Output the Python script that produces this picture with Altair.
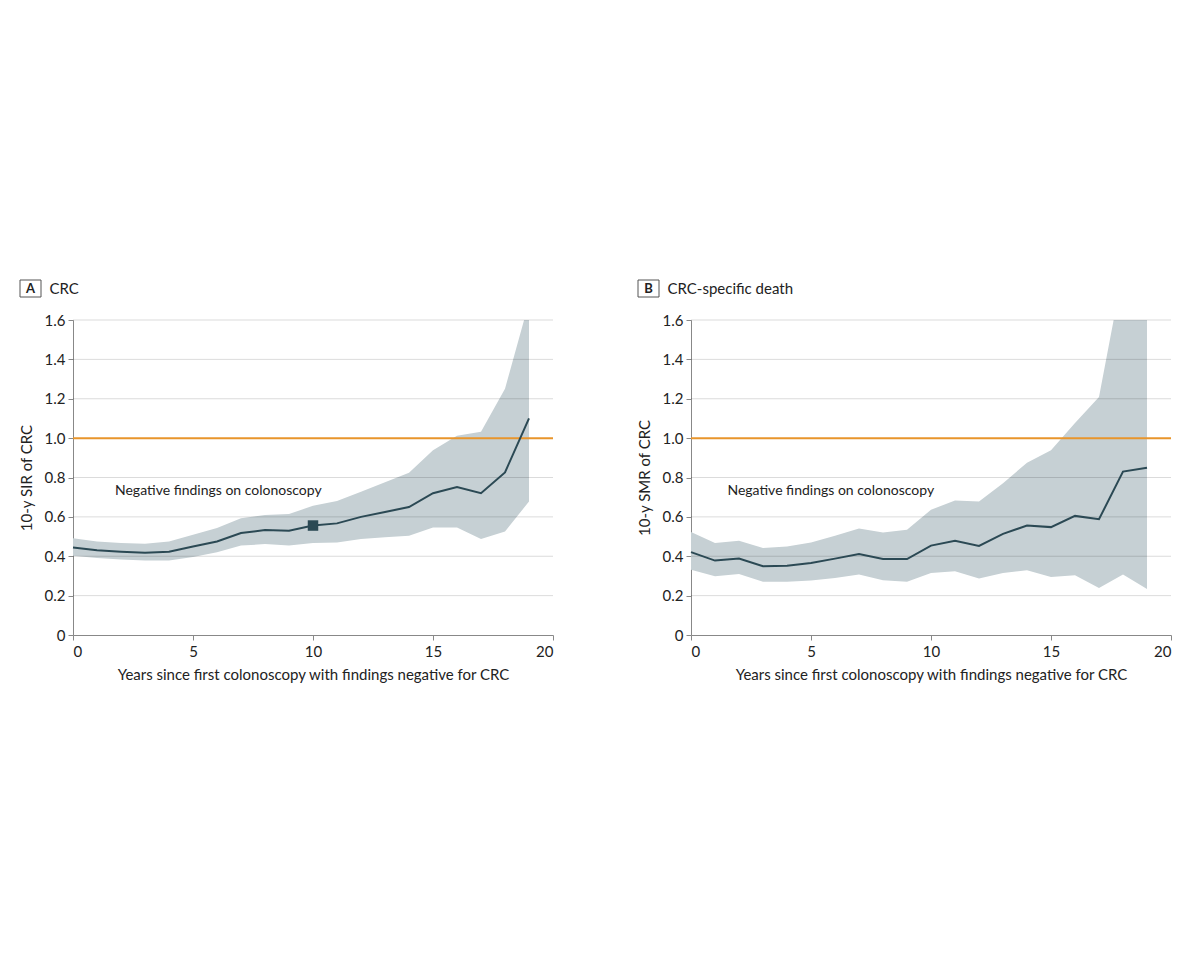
import altair as alt
import pandas as pd

years = list(range(20))

# Panel A: 10-y SIR of CRC
sir_est = [0.445, 0.430, 0.423, 0.418, 0.423, 0.450, 0.475, 0.518, 0.533, 0.530,
           0.556, 0.567, 0.600, 0.625, 0.650, 0.720, 0.752, 0.720, 0.826, 1.100]
sir_lo = [0.403, 0.391, 0.383, 0.378, 0.378, 0.396, 0.420, 0.454, 0.462, 0.454,
          0.467, 0.470, 0.487, 0.496, 0.504, 0.546, 0.546, 0.487, 0.526, 0.678]
sir_hi = [0.492, 0.475, 0.467, 0.464, 0.475, 0.509, 0.543, 0.593, 0.610, 0.615,
          0.656, 0.681, 0.728, 0.776, 0.824, 0.939, 1.012, 1.032, 1.251, 1.690]

# Panel B: 10-y SMR of CRC
smr_est = [0.421, 0.378, 0.388, 0.349, 0.352, 0.366, 0.388, 0.411, 0.386, 0.386,
           0.454, 0.479, 0.452, 0.514, 0.556, 0.548, 0.605, 0.588, 0.830, 0.850]
smr_lo = [0.332, 0.298, 0.310, 0.270, 0.270, 0.277, 0.290, 0.307, 0.278, 0.270,
          0.315, 0.324, 0.287, 0.315, 0.329, 0.295, 0.303, 0.239, 0.307, 0.234]
smr_hi = [0.523, 0.467, 0.479, 0.442, 0.450, 0.470, 0.504, 0.541, 0.521, 0.534,
          0.636, 0.683, 0.678, 0.771, 0.875, 0.939, 1.077, 1.209, 1.850, 2.500]

x_ticks = [0, 5, 10, 15, 20]
y_ticks = [0, 0.2, 0.4, 0.6, 0.8, 1.0, 1.2, 1.4, 1.6]
grid_values = [0.2, 0.4, 0.6, 0.8, 1.2, 1.4, 1.6]
reference = [1.0]
marker_year = [10]
marker_value = [0.556]
annotation = "Negative findings on colonoscopy"
x_title = "Years since first colonoscopy with findings negative for CRC"

FONT = "Lato"
BAND = "#c6d0d4"
LINE = "#2b4954"
ORANGE = "#e8952b"
W, H = 480, 315


def panel(est, lo, hi, ytitle, letter, title, ann_x, with_marker):
    df = pd.DataFrame({"year": years, "est": est, "lo": lo, "hi": hi})
    xs = alt.Scale(domain=[0, 20], nice=False)
    ys = alt.Scale(domain=[0, 1.6], nice=False)
    xaxis = alt.Axis(values=x_ticks, title=x_title, grid=False, labelFontSize=15,
                     titleFontSize=15, titleFontWeight="normal", labelFont=FONT,
                     titleFont=FONT, domainColor="#888", tickColor="#888",
                     labelColor="#222", titleColor="#222", tickSize=5,
                     labelPadding=4, titlePadding=8)
    yaxis = alt.Axis(values=y_ticks, title=ytitle, grid=False, labelFontSize=15,
                     titleFontSize=15, titleFontWeight="normal", labelFont=FONT,
                     titleFont=FONT, domainColor="#888", tickColor="#888",
                     labelColor="#222", titleColor="#222", tickSize=5,
                     labelPadding=3, titlePadding=10, labelOverlap=False, tickCount=9,
                     labelExpr="datum.value == 0 ? '0' : format(datum.value, '.1f')")
    X = lambda f: alt.X(f, scale=xs, axis=xaxis)
    Y = lambda f: alt.Y(f, scale=ys, axis=yaxis)
    base = alt.Chart(df)
    area = base.mark_area(color=BAND, clip=True, opacity=1).encode(
        x=X("year:Q"), y=Y("lo:Q"), y2="hi:Q")
    grid = alt.Chart(pd.DataFrame({"g": grid_values})).mark_rule(
        color="#000", opacity=0.14, strokeWidth=1).encode(y=Y("g:Q"))
    rule = alt.Chart(pd.DataFrame({"ref": reference})).mark_rule(
        color=ORANGE, strokeWidth=2).encode(y=Y("ref:Q"))
    line = base.mark_line(color=LINE, strokeWidth=2).encode(
        x=X("year:Q"), y=Y("est:Q"))
    ann = alt.Chart(pd.DataFrame({"x": [ann_x], "y": [0.733], "t": [annotation]})).mark_text(
        align="left", baseline="middle", font=FONT, fontSize=14, color="#222"
    ).encode(x=X("x:Q"), y=Y("y:Q"), text="t:N")
    tdf = pd.DataFrame({"letter": [letter], "title": [title]})
    box = alt.Chart(tdf).mark_rect(fill="white", stroke="#555", strokeWidth=1).encode(
        x=alt.value(-53), x2=alt.value(-32), y=alt.value(-40), y2=alt.value(-23))
    letter_t = alt.Chart(tdf).mark_text(font=FONT, fontSize=13, fontWeight="bold",
                                        color="#222", align="center", baseline="middle").encode(
        x=alt.value(-42.5), y=alt.value(-31), text="letter:N")
    title_t = alt.Chart(tdf).mark_text(font=FONT, fontSize=15, color="#222",
                                       align="left", baseline="middle").encode(
        x=alt.value(-23.5), y=alt.value(-31), text="title:N")
    layers = [area, grid, rule, line, ann, box, letter_t, title_t]
    if with_marker:
        mdf = pd.DataFrame({"year": marker_year, "v": marker_value})
        mk = alt.Chart(mdf).mark_square(color=LINE, size=110, opacity=1).encode(
            x=X("year:Q"), y=Y("v:Q"))
        layers.append(mk)
    return alt.layer(*layers).properties(width=W, height=H)


a = panel(sir_est, sir_lo, sir_hi, "10-y SIR of CRC", "A", "CRC", 1.75, True)
b = panel(smr_est, smr_lo, smr_hi, "10-y SMR of CRC", "B", "CRC-specific death", 1.52, False)

chart = alt.hconcat(a, b, spacing=83).properties(
    padding={"left": 11, "top": 271, "right": 5, "bottom": 5}
).configure_view(stroke=None)

chart.save("out.html", embed_options={"renderer": "svg", "actions": False})
